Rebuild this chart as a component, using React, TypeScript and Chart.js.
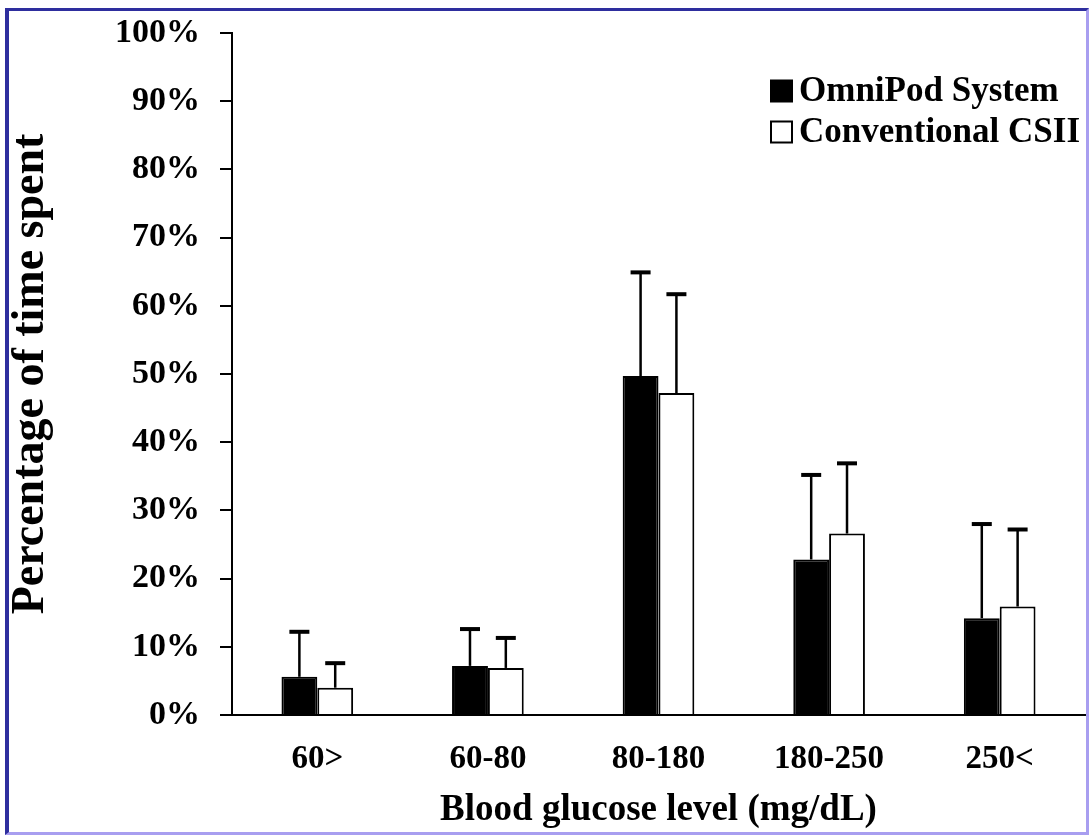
import React, { useEffect, useRef } from "react";
import { Chart, registerables } from "chart.js";

Chart.register(...registerables);

const categories = ["60>", "60-80", "80-180", "180-250", "250<"];
const omniPodMeans = [5.6, 7.2, 49.7, 22.8, 14.2];
const omniPodSD = [6.6, 5.4, 15.2, 12.4, 13.8];
const csiiMeans = [4.0, 6.9, 47.2, 26.6, 15.9];
const csiiSD = [3.6, 4.4, 14.5, 10.3, 11.3];
const yTickValues = [0, 10, 20, 30, 40, 50, 60, 70, 80, 90, 100];
const yTickLabels = ["0%", "10%", "20%", "30%", "40%", "50%", "60%", "70%", "80%", "90%", "100%"];
const seriesNames = ["OmniPod System", "Conventional CSII"];
const xTitle = "Blood glucose level (mg/dL)";
const yTitle = "Percentage of time spent";

const SERIF = "'Liberation Serif', 'Times New Roman', serif";

const errorBarPlugin = {
  id: "errorBars",
  afterDatasetsDraw(chart: any) {
    const ctx = chart.ctx;
    const yScale = chart.scales.y;
    chart.data.datasets.forEach((ds: any, di: number) => {
      const meta = chart.getDatasetMeta(di);
      const errs: number[] = ds.errors || [];
      meta.data.forEach((el: any, i: number) => {
        const v = ds.data[i];
        const e = errs[i];
        if (v == null || e == null) return;
        const yTop = yScale.getPixelForValue(v + e);
        const yBase = yScale.getPixelForValue(v);
        const x = el.x;
        ctx.save();
        ctx.strokeStyle = "#000";
        ctx.lineWidth = 2.5;
        ctx.beginPath();
        ctx.moveTo(x, yBase);
        ctx.lineTo(x, yTop);
        ctx.stroke();
        ctx.lineWidth = 4;
        ctx.beginPath();
        ctx.moveTo(x - 10, yTop);
        ctx.lineTo(x + 10, yTop);
        ctx.stroke();
        ctx.restore();
      });
    });
  },
};

const legendPlugin = {
  id: "customLegend",
  afterDraw(chart: any) {
    const ctx = chart.ctx;
    const x0 = 771;
    const y0 = 91;
    const rowGap = 41;
    const box = 21;
    ctx.save();
    ctx.font = `bold 35px ${SERIF}`;
    ctx.textBaseline = "middle";
    ctx.textAlign = "left";
    chart.data.datasets.forEach((ds: any, i: number) => {
      const cy = y0 + i * rowGap;
      ctx.fillStyle = ds.backgroundColor;
      ctx.fillRect(x0, cy - box / 2, box, box);
      ctx.strokeStyle = "#000";
      ctx.lineWidth = 2;
      ctx.strokeRect(x0, cy - box / 2, box, box);
      ctx.fillStyle = "#000";
      ctx.fillText(ds.label, x0 + box + 7, cy + 1);
    });
    ctx.restore();
  },
};

export default function App() {
  const canvasRef = useRef<HTMLCanvasElement | null>(null);

  useEffect(() => {
    if (!canvasRef.current) return;
    const chart = new Chart(canvasRef.current, {
      type: "bar",
      data: {
        labels: categories,
        datasets: [
          {
            label: seriesNames[0],
            data: omniPodMeans,
            errors: omniPodSD,
            backgroundColor: "#000000",
            borderColor: "#000000",
            borderWidth: 2,
            categoryPercentage: 0.42,
            barPercentage: 1.0,
          } as any,
          {
            label: seriesNames[1],
            data: csiiMeans,
            errors: csiiSD,
            backgroundColor: "#ffffff",
            borderColor: "#000000",
            borderWidth: 2,
            categoryPercentage: 0.42,
            barPercentage: 1.0,
          } as any,
        ],
      },
      options: {
        responsive: false,
        animation: false,
        layout: { padding: { top: 33, right: 5, bottom: 0, left: 0 } },
        plugins: {
          legend: { display: false },
          tooltip: { enabled: false },
        },
        scales: {
          x: {
            grid: { display: false, drawTicks: false },
            border: { display: true, color: "#000", width: 2 },
            ticks: {
              color: "#000",
              padding: 25,
              font: { family: SERIF, size: 33, weight: "bold" },
            },
            title: {
              display: true,
              text: xTitle,
              color: "#000",
              padding: { top: 9, bottom: 3 },
              font: { family: SERIF, size: 37, weight: "bold" },
            },
            afterFit(scale: any) {
              scale.height = 121;
            },
          },
          y: {
            min: 0,
            max: 100,
            afterBuildTicks(scale: any) {
              scale.ticks = yTickValues.map((v) => ({ value: v }));
            },
            grid: {
              display: true,
              drawOnChartArea: false,
              drawTicks: true,
              tickLength: 12,
              color: "#000",
              lineWidth: 2,
            },
            border: { display: true, color: "#000", width: 2 },
            ticks: {
              color: "#000",
              padding: 20,
              font: { family: SERIF, size: 34, weight: "bold" },
              callback: (v: any) => {
                const idx = yTickValues.indexOf(Number(v));
                return idx >= 0 ? yTickLabels[idx] : "";
              },
            },
            title: {
              display: true,
              text: yTitle,
              color: "#000",
              padding: { top: 4, bottom: 4 },
              font: { family: SERIF, size: 46, weight: "bold" },
            },
            afterFit(scale: any) {
              scale.width = 232;
              scale.paddingTop = 10;
              scale.paddingBottom = 10;
            },
          },
        },
      } as any,
      plugins: [errorBarPlugin, legendPlugin],
    });
    return () => chart.destroy();
  }, []);

  return (
    <div style={{ position: "absolute", left: 0, top: 0, width: 1090, height: 836, background: "#fff" }}>
      <canvas ref={canvasRef} width={1090} height={836} style={{ position: "absolute", left: 0, top: 0 }} />
      <div
        style={{
          position: "absolute",
          left: 5,
          top: 8,
          width: 1084,
          height: 827,
          boxSizing: "border-box",
          borderLeft: "4px solid #2e2e9e",
          borderTop: "3px solid #2e2e9e",
          borderRight: "3px solid #a89ef0",
          borderBottom: "3px solid #a89ef0",
          pointerEvents: "none",
        }}
      />
    </div>
  );
}
